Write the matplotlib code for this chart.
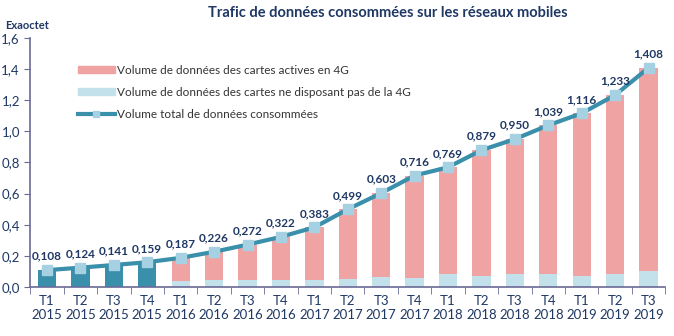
import numpy as np
import matplotlib
matplotlib.use("Agg")
import matplotlib.pyplot as plt
from matplotlib.patches import Patch
from matplotlib.lines import Line2D

plt.rcParams['font.family'] = ['Lato', 'DejaVu Sans']

quarters = ["T1", "T2", "T3", "T4", "T1", "T2", "T3", "T4", "T1",
            "T2", "T3", "T4", "T1", "T2", "T3", "T4", "T1", "T2", "T3"]
years = ["2015"] * 4 + ["2016"] * 4 + ["2017"] * 4 + ["2018"] * 4 + ["2019"] * 3
total = [0.108, 0.124, 0.141, 0.159, 0.187, 0.226, 0.272, 0.322, 0.383,
         0.499, 0.603, 0.716, 0.769, 0.879, 0.950, 1.039, 1.116, 1.233, 1.408]
# volume des cartes sans 4G (partie basse) a partir de 2016
non4g = [0, 0, 0, 0, 0.039, 0.042, 0.047, 0.045, 0.045,
         0.050, 0.063, 0.060, 0.080, 0.073, 0.084, 0.083, 0.073, 0.080, 0.100]

navy = "#1f3864"
teal = "#3a8fab"
pink = "#efa3a3"
lblue = "#c3e1ea"
mark = "#a5d1e3"
spine = "#6a6a96"

n = len(total)
x = np.arange(n)
total = np.array(total)
non4g = np.array(non4g)
is2015 = non4g == 0

fig = plt.figure(figsize=(6.74, 3.36), dpi=100)
ax = fig.add_axes([0.045, 0.146, 0.942, 0.741])

w = 0.55
ax.bar(x[is2015], total[is2015], width=w, color=teal, zorder=2)
ax.bar(x[~is2015], non4g[~is2015], width=w, color=lblue, zorder=2)
ax.bar(x[~is2015], (total - non4g)[~is2015], bottom=non4g[~is2015],
       width=w, color=pink, zorder=2)
ax.plot(x, total, color=teal, lw=3, marker="s", ms=6.5, mfc=mark,
        mec=mark, zorder=3)

for xi, v in zip(x, total):
    ax.annotate(f"{v:.3f}".replace(".", ","), (xi, v), xytext=(0, 6),
                textcoords="offset points", ha="center", va="bottom",
                fontsize=8.5, fontweight="bold", color=navy, zorder=4)

ax.set_xlim(-0.5, n - 0.5)
ax.set_ylim(0, 1.6)
yt = np.arange(0, 1.61, 0.2)
ax.set_yticks(yt)
ax.set_yticklabels([f"{t:.1f}".replace(".", ",") for t in yt])
ax.set_xticks(x)
ax.set_xticklabels([f"{q}\n{y}" for q, y in zip(quarters, years)])
ax.set_xticks(np.arange(-0.5, n, 1), minor=True)
ax.tick_params(axis="x", which="major", length=0, pad=6, labelsize=9.5,
               colors=navy)
ax.tick_params(axis="x", which="minor", length=5, color=spine)
ax.tick_params(axis="y", length=4, color=spine, labelsize=9.5, colors=navy)
for s in ["top", "right"]:
    ax.spines[s].set_visible(False)
for s in ["left", "bottom"]:
    ax.spines[s].set_color(spine)
    ax.spines[s].set_linewidth(1.2)

handles = [Patch(color=pink), Patch(color=lblue),
           Line2D([], [], color=teal, lw=3, marker="s", ms=5,
                  mfc=mark, mec=mark)]
labels = ["Volume de données des cartes actives en 4G",
          "Volume de données des cartes ne disposant pas de la 4G",
          "Volume total de données consommées"]
leg = fig.legend(handles, labels, loc="upper left",
                 bbox_to_anchor=(0.108, 0.822), frameon=False, fontsize=8.5,
                 handlelength=3.2, handleheight=0.55, handletextpad=0.15,
                 labelspacing=0.95, borderaxespad=0)
for t in leg.get_texts():
    t.set_color("#333333")

fig.text(0.575, 0.96, "Trafic de données consommées sur les réseaux mobiles",
         ha="center", va="center", fontsize=10.5, fontweight="bold", color=navy)
fig.text(0.008, 0.925, "Exaoctet", ha="left", va="center", fontsize=8,
         fontweight="bold", color=navy)

fig.savefig("out.png", dpi=100)
